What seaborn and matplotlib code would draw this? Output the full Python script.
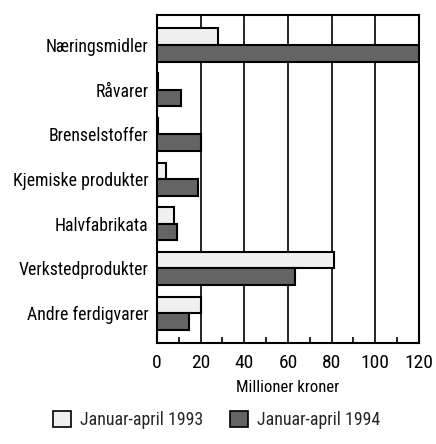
import pandas as pd
import matplotlib.pyplot as plt
import seaborn as sns
from matplotlib.patches import Patch
from matplotlib.ticker import MultipleLocator

# --- Data ---
categories = ['Næringsmidler', 'Råvarer', 'Brenselstoffer', 'Kjemiske produkter',
              'Halvfabrikata', 'Verkstedprodukter', 'Andre ferdigvarer']
values_1993 = [28, 0.5, 0.5, 4, 8, 81, 20]
values_1994 = [120, 11, 20, 19, 9, 63, 14.5]
series = ['Januar-april 1993', 'Januar-april 1994']
x_ticks = [0, 20, 40, 60, 80, 100, 120]

df = pd.DataFrame({
    'Kategori': categories * 2,
    'Verdi': values_1993 + values_1994,
    'Periode': [series[0]] * len(categories) + [series[1]] * len(categories),
})

sns.set_theme(style="white")
# narrow sans, like the Helvetica Narrow of the original
plt.rcParams['font.family'] = ['Roboto Condensed', 'Archivo Narrow', 'Liberation Sans Narrow', 'DejaVu Sans']
plt.rcParams['font.stretch'] = 'condensed'

colors = ['#f0f0f0', '#646464']

fig = plt.figure(figsize=(4.36, 4.44), dpi=100)
ax = fig.add_axes((0.360, 0.2275, 0.601, 0.7385))

sns.barplot(data=df, y='Kategori', x='Verdi', hue='Periode', hue_order=series,
            order=categories, palette=colors, orient='h', width=0.74,
            edgecolor='black', linewidth=1.5, saturation=1, legend=False, ax=ax, zorder=3)

ax.set_xlim(0, 120)
ax.set_ylim(6.67, -0.67)
ax.set_xticks(x_ticks)
ax.xaxis.set_minor_locator(MultipleLocator(10))
ax.grid(axis='x', which='major', color='black', linewidth=1.2, zorder=0)
ax.set_axisbelow(True)
ax.tick_params(axis='x', which='major', length=0, pad=8, labelsize=14, colors='black')
ax.tick_params(axis='x', which='minor', direction='in', length=4, width=1.2, color='black', bottom=True)
ax.tick_params(axis='y', length=0, pad=6, labelsize=12.8, colors='black')
ax.set_ylabel('')
ax.set_xlabel('Millioner kroner', fontsize=12, labelpad=6, color='black')
for s in ax.spines.values():
    s.set_visible(True)
    s.set_color('black')
    s.set_linewidth(1.5)

handles = [Patch(facecolor=c, edgecolor='black', linewidth=1.2) for c in colors]
fig.legend(handles, series, loc='center', bbox_to_anchor=(0.497, 0.054), ncol=2,
           frameon=False, fontsize=12.9, handlelength=1.05, handleheight=1.05,
           columnspacing=1.45, handletextpad=0.5)

fig.savefig('out.png', dpi=100)
